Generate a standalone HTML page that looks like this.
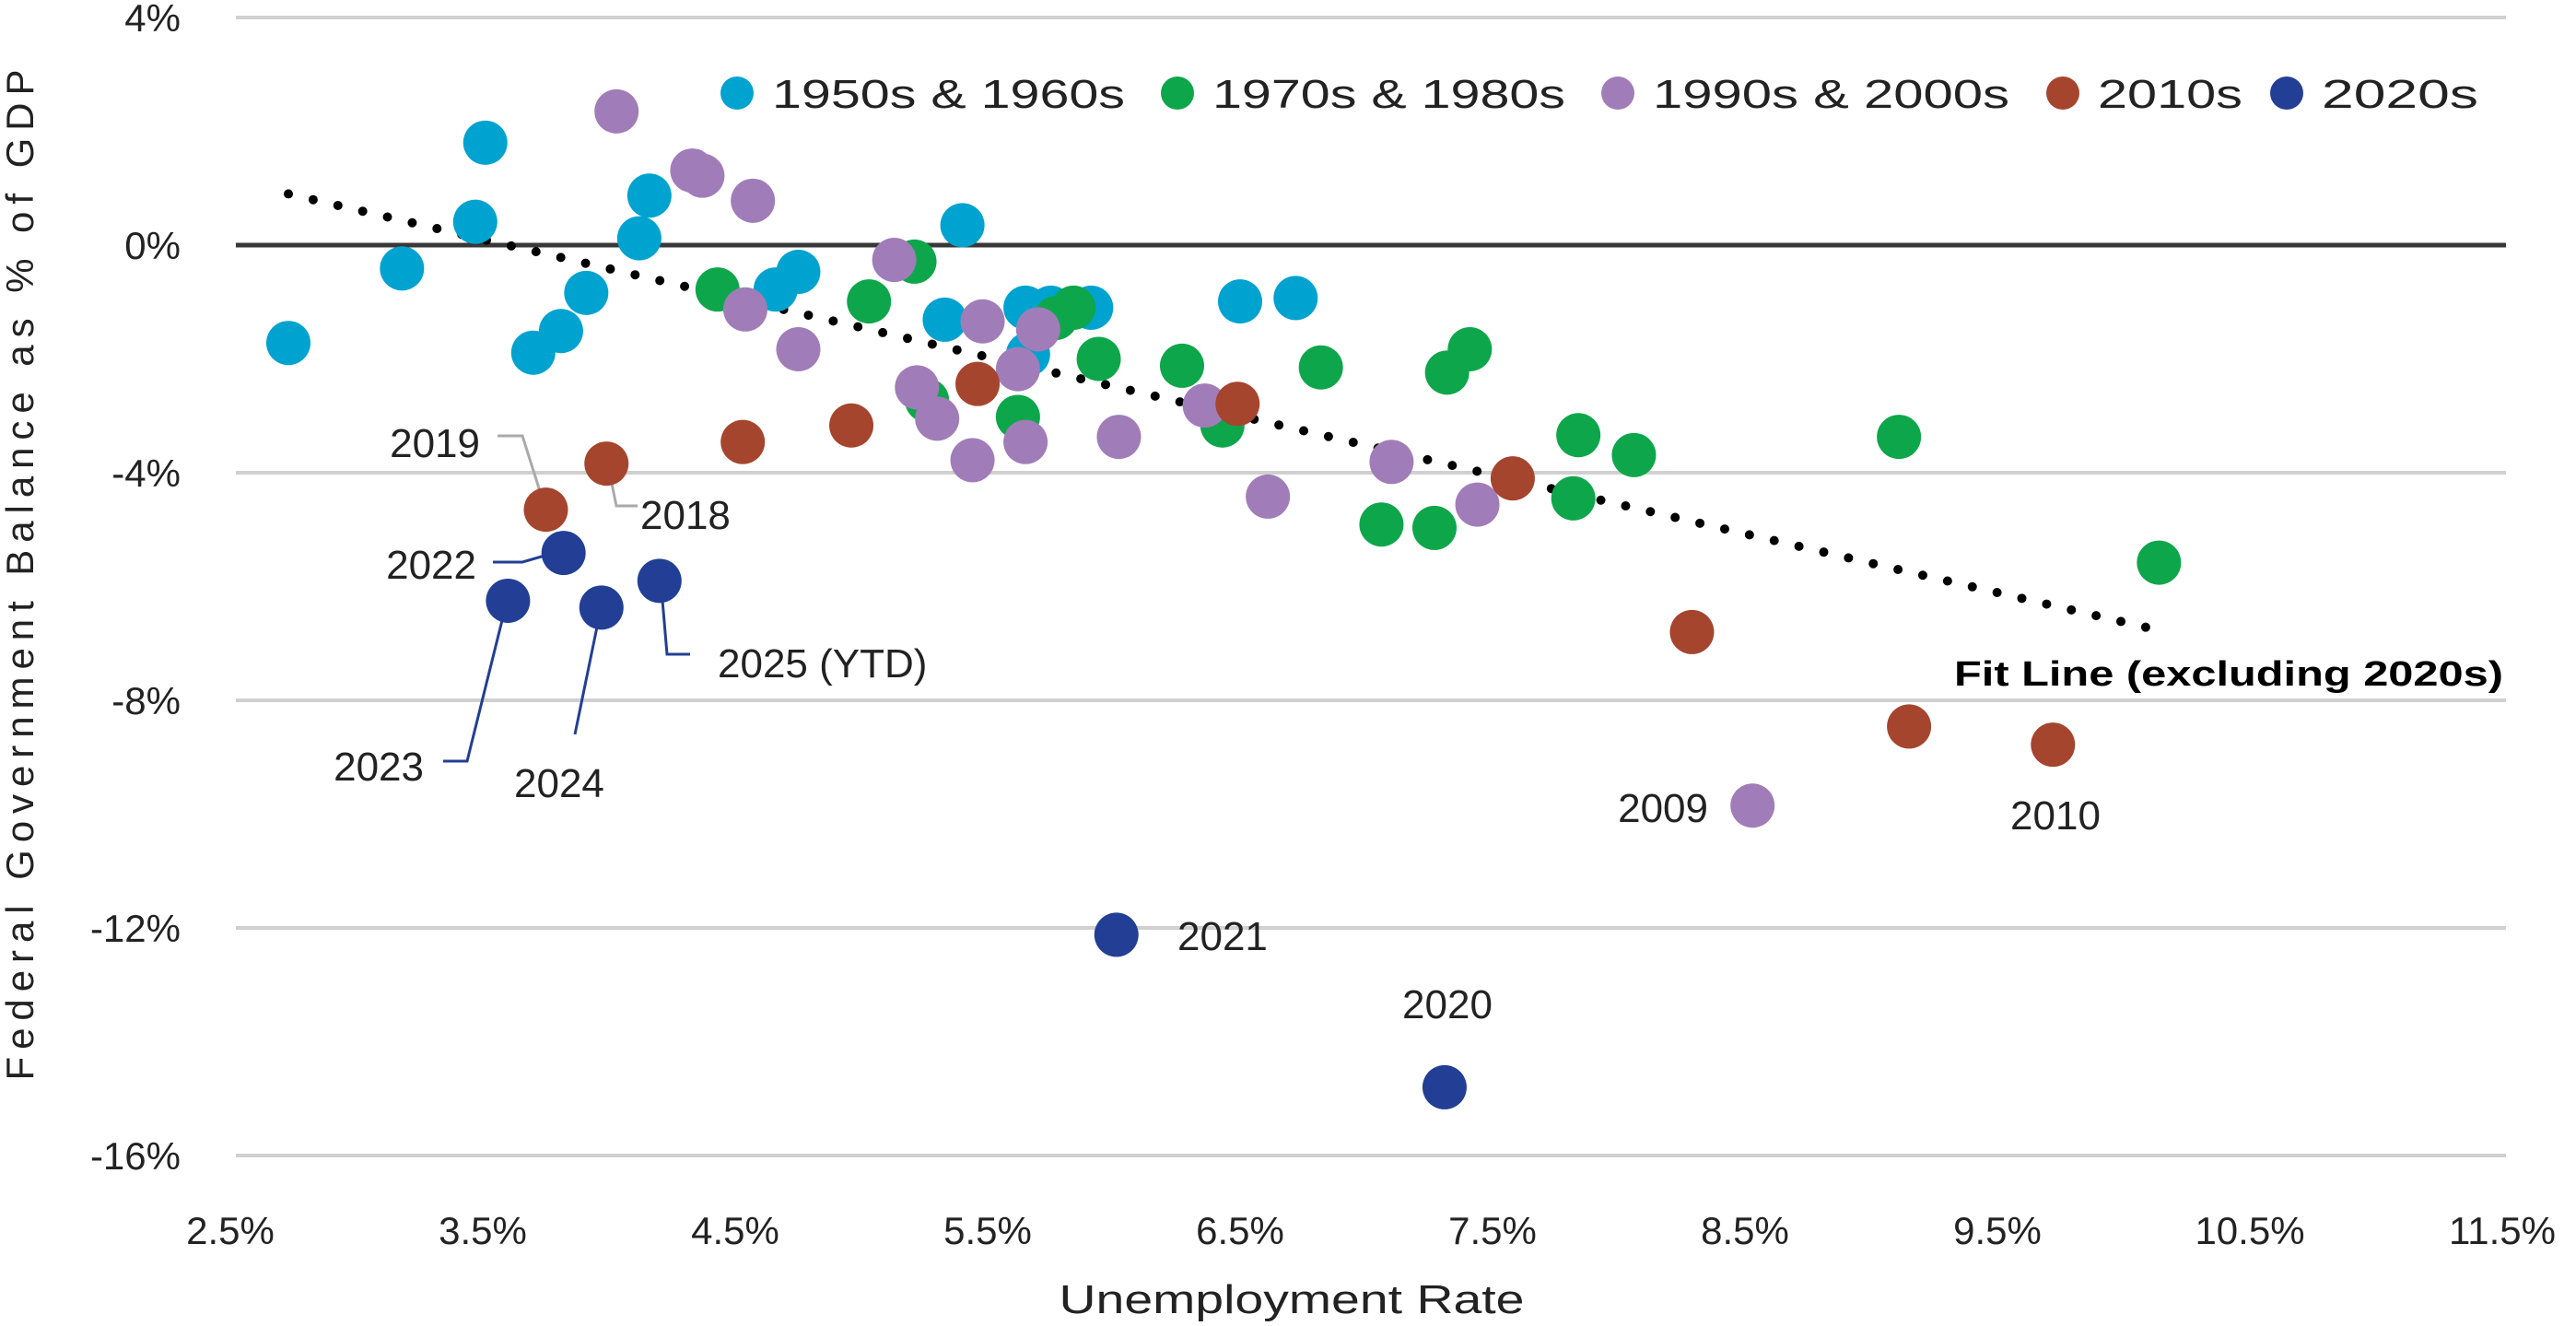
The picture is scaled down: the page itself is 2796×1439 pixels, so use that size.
<!DOCTYPE html>
<html><head><meta charset="utf-8">
<style>
html,body{margin:0;padding:0;background:#fff;}
svg{display:block;font-family:"Liberation Sans",sans-serif;}
</style></head>
<body>
<svg id="chart" width="2796" height="1439" viewBox="0 0 2796 1439" xmlns="http://www.w3.org/2000/svg">
<g id="grid"></g>
<g id="yticks"></g>
<g id="xticks"></g>
<g id="fit"></g>
<g id="leaders"></g>
<g id="points"></g>
<g id="annot"></g>
<g id="legend"></g>
<text transform="translate(36,624) rotate(-90)" text-anchor="middle" font-size="42" fill="#222" textLength="1097" lengthAdjust="spacing">Federal Government Balance as % of GDP</text>
<text x="1402" y="1425" text-anchor="middle" font-size="44" fill="#222" textLength="505" lengthAdjust="spacingAndGlyphs">Unemployment Rate</text>
<text x="2717" y="744" text-anchor="end" font-size="38" font-weight="bold" fill="#000" textLength="596" lengthAdjust="spacingAndGlyphs">Fit Line (excluding 2020s)</text>
</svg>
<script>
const xTicks=[2.5,3.5,4.5,5.5,6.5,7.5,8.5,9.5,10.5,11.5];
const yTicks=[4,0,-4,-8,-12,-16];
const seriesNames=["1950s & 1960s","1970s & 1980s","1990s & 2000s","2010s","2020s"];
const seriesColors=["#00A3CF","#0EA64B","#A07DB8","#A5452E","#223F95"];
const u50=[2.73,3.18,3.51,3.47,3.70,3.81,3.91,4.12,4.16,4.66,4.75,5.40,5.33,5.65,5.75,5.91,5.66,6.50,6.72];
const v50=[-1.72,-0.41,1.80,0.41,-1.89,-1.51,-0.84,0.12,0.87,-0.78,-0.47,0.35,-1.31,-1.10,-1.10,-1.10,-1.92,-0.99,-0.93];
const u70=[4.43,5.03,5.21,5.26,5.62,5.77,5.84,5.94,6.27,6.43,6.82,7.06,7.27,7.32,7.41,7.84,7.82,8.06,9.11,10.14];
const v70=[-0.78,-0.99,-0.29,-2.73,-3.02,-1.28,-1.10,-2.00,-2.12,-3.17,-2.15,-4.91,-4.97,-2.24,-1.83,-3.34,-4.45,-3.69,-3.37,-5.58];
const u90=[4.03,4.33,4.37,4.57,4.54,4.75,5.13,5.22,5.30,5.44,5.48,5.62,5.65,5.70,6.02,6.36,6.61,7.10,7.44,8.53];
const v90=[2.35,1.31,1.22,0.78,-1.13,-1.83,-0.26,-2.50,-3.05,-3.78,-1.34,-2.18,-3.46,-1.48,-3.37,-2.82,-4.42,-3.81,-4.56,-9.85];
const u10=[3.75,3.99,4.53,4.96,5.46,6.49,7.58,8.29,9.15,9.72];
const v10=[-4.65,-3.84,-3.46,-3.17,-2.44,-2.79,-4.10,-6.80,-8.46,-8.78];
const u20=[3.60,3.82,3.97,4.20,6.01,7.31];
const v20=[-6.25,-5.41,-6.37,-5.90,-12.12,-14.80];
const fitU=[2.73,10.14];
const fitV=[0.90,-6.77];
const NS="http://www.w3.org/2000/svg";
function X(u){return 250+(u-2.5)*274;}
function Y(v){return 266-v*61.75;}
function mk(tag,attrs,parent,txt){const e=document.createElementNS(NS,tag);for(const k in attrs)e.setAttribute(k,attrs[k]);if(txt!==undefined)e.textContent=txt;parent.appendChild(e);return e;}
const grid=document.getElementById('grid'),yt=document.getElementById('yticks'),xt=document.getElementById('xticks');
yTicks.forEach(t=>{
  const l=mk('line',{x1:256,x2:2720,y1:Y(t),y2:Y(t),stroke:t===0?'#383838':'#D0D0D0','stroke-width':t===0?5:4},grid);
  
  
  const s=mk('text',{x:196,y:Y(t)+15,'text-anchor':'end','font-size':42,fill:'#222'},yt,t+'%');
  
  
});
xTicks.forEach(t=>{
  const s=mk('text',{x:X(t),y:1350,'text-anchor':'middle','font-size':42,fill:'#222'},xt,t+'%');
  
  
});
const fit=document.getElementById('fit');
const fl=mk('line',{x1:X(fitU[0]),y1:Y(fitV[0]),x2:X(fitU[1]),y2:Y(fitV[1]),stroke:'#000','stroke-width':10,'stroke-linecap':'round','stroke-dasharray':'0 27.6'},fit);


const pts=document.getElementById('points');
const allU=[u50,u70,u90,u10,u20],allV=[v50,v70,v90,v10,v20];
allU.forEach((us,si)=>{us.forEach((u,i)=>{
  const c=mk('circle',{cx:X(u),cy:Y(allV[si][i]),r:24,fill:seriesColors[si]},pts);
  
  
});});
const leg=document.getElementById('legend');
const legX=[800,1278,1756,2239,2482];
const legW=[383,383,387,157,170];
seriesNames.forEach((n,i)=>{
  const c=mk('circle',{cx:legX[i],cy:101,r:18,fill:seriesColors[i]},leg);
  
  
  const t=mk('text',{x:legX[i]+38,y:117,'font-size':44,fill:'#222',textLength:legW[i],lengthAdjust:'spacingAndGlyphs'},leg,n);
  
  
});
const ld=document.getElementById('leaders');
[['540,473 567,473 592,552','#AAAAAA'],['660,505 669,549 692,549','#AAAAAA'],['535,610 567,610 612,597','#223F95'],
 ['551,649 507,826 481,826','#223F95'],['653,656 624,797','#223F95'],['717,628 724,710 749,710','#223F95']].forEach(p=>{
  const e=mk('polyline',{points:p[0],fill:'none',stroke:p[1],'stroke-width':3},ld);
  
  
});
const an=document.getElementById('annot');
[['2019',521,496,'end'],['2018',695,574,'start'],['2022',517,628,'end'],['2023',460,847,'end'],['2024',558,865,'start'],
 ['2025 (YTD)',779,735,'start'],['2021',1278,1031,'start'],['2020',1571,1105,'middle'],['2009',1854,892,'end'],['2010',2231,900,'middle']].forEach(a=>{
  const t=mk('text',{x:a[1],y:a[2],'text-anchor':a[3],'font-size':44,fill:'#222'},an,a[0]);
  
  
});
</script>
</body></html>
